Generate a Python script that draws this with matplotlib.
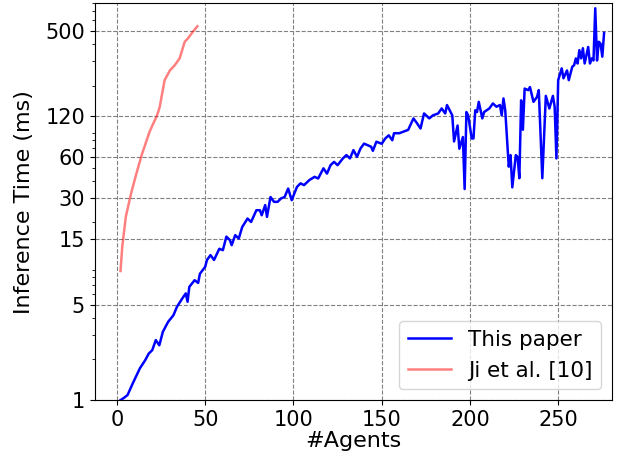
import matplotlib
matplotlib.use('Agg')
import matplotlib.pyplot as plt
from matplotlib.ticker import FixedLocator, FixedFormatter, LogLocator, NullFormatter

# This paper (blue)
agents_ours = [2, 4, 6, 9, 13, 16, 18, 20, 22, 24, 26, 29, 32, 34, 37, 39, 40, 41,
               44, 46, 47, 50, 51, 53, 55, 58, 60, 62, 64, 65, 67, 69, 71, 74, 76,
               79, 81, 82, 84, 85, 87, 89, 91, 93, 95, 97, 99, 102, 104, 106, 109,
               112, 114, 116, 117, 119, 121, 123, 125, 128, 130, 132, 134, 136, 138,
               140, 142, 144, 145, 147, 150, 152, 154, 156, 157, 160, 162, 165, 168,
               170, 172, 174, 177, 179, 182, 184, 186, 187, 189, 190, 191, 193, 194,
               196, 197, 198, 199, 201, 202, 203, 204, 205, 207, 208, 211, 213, 215,
               217, 218, 219, 220, 222, 223, 224, 226, 227, 228, 229, 230, 231, 233,
               234, 236, 238, 239, 241, 243, 245, 247, 248, 249, 250, 252, 253, 255,
               256, 258, 259, 260, 261, 262, 263, 264, 265, 267, 268, 269, 270, 271,
               272, 273, 274, 275, 276]
time_ours = [1.0, 1.04, 1.09, 1.33, 1.71, 1.96, 2.19, 2.32, 2.75, 2.52, 3.16, 3.74,
             4.18, 4.82, 5.54, 6.04, 5.24, 6.74, 7.54, 7.2, 8.4, 9.45, 10.6, 11.5,
             10.6, 12.8, 12.5, 15.7, 14.8, 13.6, 16.1, 15.2, 18.5, 21.3, 20.1, 24.5,
             24.5, 22.5, 26.7, 21.9, 30.6, 28.2, 28.2, 29.9, 30.6, 35.3, 29.0, 36.3,
             38.5, 37.4, 40.7, 43.0, 41.8, 46.9, 49.6, 45.4, 52.3, 55.3, 52.3, 58.6,
             62.0, 58.6, 67.4, 60.2, 69.3, 75.2, 73.3, 71.4, 66.6, 77.7, 75.0, 82.0,
             86.5, 79.6, 89.6, 89.6, 91.7, 94.8, 115, 106, 97, 125, 115, 121, 125,
             136, 125, 144, 128, 121, 78, 102, 69, 84, 35, 128, 121, 82, 82, 132, 128,
             152, 115, 128, 136, 148, 140, 144, 121, 161, 132, 51, 62, 36, 62, 60, 42,
             156, 95, 190, 185, 195, 152, 165, 185, 42, 168, 136, 168, 140, 58.6, 219,
             267, 226, 258, 219, 275, 281, 316, 290, 363, 316, 375, 290, 383, 290, 316,
             305, 735, 305, 418, 405, 325, 485]

# Ji et al. [10] (red)
agents_ji = [2, 3, 5, 8, 11, 14, 18.5, 22.7, 24.2, 27, 30, 32.7, 35.5, 38.4, 40.3, 43, 45.6]
time_ji = [8.8, 13.2, 21.9, 32.5, 45.4, 62, 92, 121, 139, 219, 258, 281, 316, 418, 444, 495, 543]

yticks = [1, 5, 15, 30, 60, 120, 500]

fig = plt.figure(figsize=(6.4, 4.61), dpi=100)
ax = fig.add_axes([0.148, 0.132, 0.808, 0.861])

ax.plot(agents_ours, time_ours, color='b', lw=1.8, label='This paper')
ax.plot(agents_ji, time_ji, color='r', alpha=0.5, lw=1.8, label='Ji et al. [10]')

ax.set_yscale('log')
ax.set_ylim(1, 800)
ax.set_xlim(-12.6, 280.4)
ax.yaxis.set_major_locator(FixedLocator(yticks))
ax.yaxis.set_major_formatter(FixedFormatter([str(t) for t in yticks]))
ax.yaxis.set_minor_locator(LogLocator(base=10, subs=range(2, 10)))
ax.yaxis.set_minor_formatter(NullFormatter())

ax.grid(True, which='major', linestyle='--', color='gray', lw=0.8)
ax.tick_params(labelsize=15)
ax.set_xlabel('#Agents', fontsize=16, labelpad=1)
ax.set_ylabel('Inference Time (ms)', fontsize=16, labelpad=8)
ax.legend(loc='lower right', fontsize=15.5)

fig.savefig('out.png', dpi=100)
